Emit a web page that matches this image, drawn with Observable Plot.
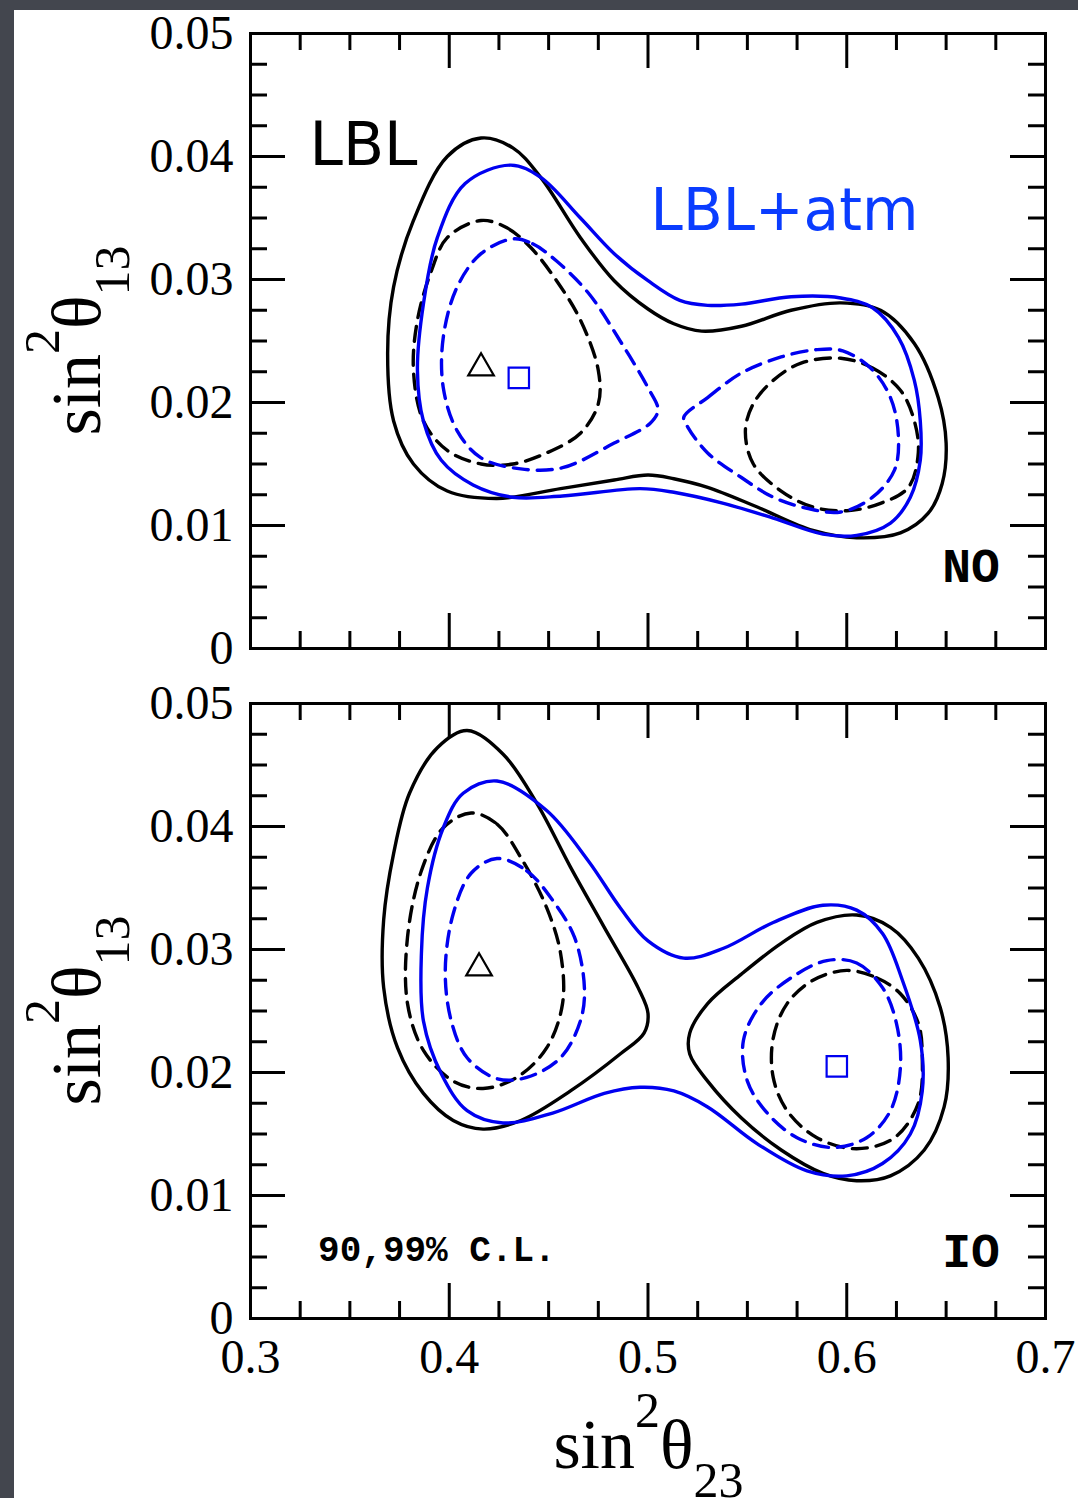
<!DOCTYPE html>
<html><head><meta charset="utf-8">
<script src="https://cdn.jsdelivr.net/npm/d3@7"></script>
<script src="https://cdn.jsdelivr.net/npm/@observablehq/plot@0.6"></script>
<style>
html,body{margin:0;padding:0;background:#43464e;}
#page{position:relative;width:1078px;height:1498px;background:#43464e;overflow:hidden;}
#sheet{position:absolute;left:14px;top:10px;right:0;bottom:0;background:#fff;}
#top,#bottom{position:absolute;left:0;}
#top{top:0;} #bottom{top:670px;}
</style></head><body>
<div id="page"><div id="sheet"></div><div id="top"></div><div id="bottom"></div></div>
<script>
// ---------- axis ticks ----------
const xMajor = [0.3, 0.4, 0.5, 0.6, 0.7];
const xMajorLabels = ["0.3", "0.4", "0.5", "0.6", "0.7"];
const xInnerMajor = [0.4, 0.5, 0.6];
const xMinor = [0.325, 0.35, 0.375, 0.425, 0.45, 0.475, 0.525, 0.55, 0.575, 0.625, 0.65, 0.675];
const yMajor = [0, 0.01, 0.02, 0.03, 0.04, 0.05];
const yMajorLabels = ["0", "0.01", "0.02", "0.03", "0.04", "0.05"];
const yInnerMajor = [0.01, 0.02, 0.03, 0.04];
const yMinor = [0.0025, 0.005, 0.0075, 0.0125, 0.015, 0.0175, 0.0225, 0.025, 0.0275,
                0.0325, 0.035, 0.0375, 0.0425, 0.045, 0.0475];

// ---------- NO panel contours (sin^2 th23, sin^2 th13) ----------
const noLbl99 = [[0.416,0.0415],[0.432,0.0407],[0.446,0.0383],[0.466,0.0334],[0.483,0.0299],[0.500,0.0276],[0.513,0.0264],[0.527,0.0258],[0.547,0.0262],[0.572,0.0275],[0.597,0.0281],[0.617,0.0275],[0.634,0.0248],[0.646,0.0204],[0.650,0.0167],[0.648,0.0134],[0.641,0.0110],[0.627,0.0094],[0.605,0.0090],[0.583,0.0096],[0.555,0.0115],[0.530,0.0131],[0.513,0.0138],[0.500,0.0141],[0.483,0.0137],[0.456,0.0130],[0.424,0.0122],[0.399,0.0128],[0.382,0.0150],[0.372,0.0185],[0.369,0.0240],[0.372,0.0294],[0.382,0.0348],[0.399,0.0400]];
const noAtm99 = [[0.431,0.0393],[0.446,0.0383],[0.466,0.0350],[0.483,0.0321],[0.500,0.0299],[0.516,0.0283],[0.530,0.0279],[0.547,0.0280],[0.572,0.0286],[0.597,0.0285],[0.613,0.0277],[0.626,0.0253],[0.634,0.0218],[0.637,0.0185],[0.637,0.0153],[0.632,0.0123],[0.622,0.0102],[0.605,0.0092],[0.588,0.0093],[0.563,0.0106],[0.538,0.0118],[0.513,0.0127],[0.496,0.0130],[0.457,0.0124],[0.432,0.0123],[0.412,0.0133],[0.396,0.0153],[0.387,0.0185],[0.384,0.0226],[0.387,0.0280],[0.394,0.0334],[0.408,0.0378]];
const noLbl90L = [[0.416,0.0348],[0.429,0.0342],[0.441,0.0326],[0.454,0.0299],[0.466,0.0267],[0.475,0.0226],[0.475,0.0199],[0.466,0.0175],[0.449,0.0159],[0.432,0.0150],[0.416,0.0150],[0.399,0.0161],[0.387,0.0185],[0.382,0.0226],[0.384,0.0267],[0.391,0.0307],[0.399,0.0334]];
const noLbl90R = [[0.597,0.0236],[0.613,0.0228],[0.627,0.0210],[0.634,0.0185],[0.636,0.0159],[0.631,0.0131],[0.617,0.0118],[0.600,0.0112],[0.583,0.0115],[0.567,0.0128],[0.553,0.0150],[0.549,0.0177],[0.553,0.0199],[0.563,0.0218],[0.577,0.0232]];
const noAtm90L = [[0.432,0.0333],[0.442,0.0329],[0.454,0.0315],[0.470,0.0289],[0.486,0.0250],[0.500,0.0212],[0.505,0.0194],[0.501,0.0183],[0.483,0.0167],[0.457,0.0147],[0.436,0.0146],[0.416,0.0155],[0.404,0.0177],[0.397,0.0212],[0.397,0.0253],[0.404,0.0294],[0.416,0.0321]];
const noAtm90R = [[0.518,0.0188],[0.530,0.0204],[0.547,0.0224],[0.567,0.0237],[0.585,0.0243],[0.598,0.0242],[0.612,0.0228],[0.622,0.0204],[0.626,0.0172],[0.624,0.0145],[0.613,0.0123],[0.597,0.0111],[0.580,0.0114],[0.563,0.0123],[0.547,0.0139],[0.530,0.0159],[0.520,0.0180]];
const noBestLbl = [0.416, 0.0228];
const noBestAtm = [0.435, 0.0220];

// ---------- IO panel contours ----------
const ioLbl99L = [[0.409,0.0478],[0.427,0.0459],[0.444,0.0419],[0.461,0.0367],[0.478,0.0318],[0.495,0.0269],[0.500,0.0248],[0.498,0.0232],[0.486,0.0215],[0.461,0.0185],[0.436,0.0161],[0.417,0.0154],[0.402,0.0161],[0.387,0.0183],[0.374,0.0220],[0.367,0.0269],[0.367,0.0324],[0.372,0.0378],[0.380,0.0427],[0.394,0.0464]];
const ioLbl99R = [[0.521,0.0232],[0.530,0.0256],[0.547,0.0280],[0.567,0.0305],[0.585,0.0322],[0.605,0.0328],[0.622,0.0318],[0.636,0.0293],[0.647,0.0253],[0.651,0.0212],[0.649,0.0172],[0.639,0.0137],[0.622,0.0116],[0.605,0.0112],[0.588,0.0118],[0.567,0.0137],[0.547,0.0163],[0.530,0.0193],[0.521,0.0215]];
const ioAtm99 = [[0.424,0.0437],[0.449,0.0413],[0.470,0.0372],[0.486,0.0334],[0.500,0.0307],[0.518,0.0293],[0.538,0.0301],[0.563,0.0322],[0.588,0.0336],[0.605,0.0332],[0.618,0.0313],[0.628,0.0275],[0.637,0.0226],[0.638,0.0185],[0.632,0.0150],[0.618,0.0126],[0.600,0.0116],[0.580,0.0120],[0.555,0.0142],[0.530,0.0172],[0.513,0.0185],[0.496,0.0188],[0.478,0.0183],[0.452,0.0167],[0.427,0.0159],[0.409,0.0169],[0.396,0.0199],[0.387,0.0242],[0.386,0.0297],[0.389,0.0350],[0.397,0.0399],[0.407,0.0427]];
const ioLbl90L = [[0.411,0.0411],[0.424,0.0402],[0.437,0.0372],[0.449,0.0334],[0.456,0.0297],[0.457,0.0256],[0.449,0.0220],[0.434,0.0196],[0.417,0.0187],[0.402,0.0193],[0.387,0.0218],[0.379,0.0256],[0.379,0.0310],[0.386,0.0364],[0.397,0.0399]];
const ioLbl90R = [[0.600,0.0283],[0.615,0.0277],[0.627,0.0264],[0.636,0.0240],[0.638,0.0212],[0.636,0.0175],[0.624,0.0147],[0.605,0.0138],[0.585,0.0147],[0.570,0.0169],[0.563,0.0196],[0.563,0.0228],[0.570,0.0256],[0.583,0.0275]];
const ioAtm90L = [[0.424,0.0374],[0.439,0.0364],[0.452,0.0340],[0.463,0.0310],[0.468,0.0269],[0.466,0.0242],[0.456,0.0212],[0.439,0.0196],[0.424,0.0195],[0.409,0.0212],[0.401,0.0242],[0.398,0.0283],[0.402,0.0329],[0.411,0.0362]];
const ioAtm90R = [[0.590,0.0291],[0.605,0.0289],[0.618,0.0269],[0.625,0.0240],[0.627,0.0204],[0.622,0.0169],[0.610,0.0147],[0.593,0.0139],[0.575,0.0147],[0.560,0.0167],[0.550,0.0193],[0.548,0.0226],[0.557,0.0256],[0.572,0.0277]];
const ioBestLbl = [0.415, 0.0285];
const ioBestAtm = [0.595, 0.0205];

// ---------- styles ----------
const BLACK = "#000000";
const BLUE = "#0000f0";
const TEXTBLUE = "#0a3cff";
const W = 1078, ML = 250, MR = 33, MT = 33, PH = 615;
const LW = 3, CW = 3.4;
const DASH = "15,9";
const serif = "'Liberation Serif', 'Times New Roman', serif";
const mono = "'Liberation Mono', 'Courier New', monospace";
const sans = "'Comic Sans MS', 'DejaVu Sans', sans-serif";

const rows = (pts, id) => pts.map(([x, y]) => ({x, y, id}));
const xLab = new Map(xMajor.map((d, i) => [d, xMajorLabels[i]]));
const yLab = new Map(yMajor.map((d, i) => [d, yMajorLabels[i]]));

function frameMarks() {
  const innerH = PH - 35, innerHm = PH - 17;
  const innerW = (W - ML - MR) - 35, innerWm = (W - ML - MR) - 17;
  const t = {stroke: BLACK, strokeWidth: LW};
  return [
    Plot.tickX(xInnerMajor, {x: d => d, insetTop: innerH, ...t}),
    Plot.tickX(xInnerMajor, {x: d => d, insetBottom: innerH, ...t}),
    Plot.tickX(xMinor, {x: d => d, insetTop: innerHm, ...t}),
    Plot.tickX(xMinor, {x: d => d, insetBottom: innerHm, ...t}),
    Plot.tickY(yInnerMajor, {y: d => d, insetRight: innerW, ...t}),
    Plot.tickY(yInnerMajor, {y: d => d, insetLeft: innerW, ...t}),
    Plot.tickY(yMinor, {y: d => d, insetRight: innerWm, ...t}),
    Plot.tickY(yMinor, {y: d => d, insetLeft: innerWm, ...t}),
    Plot.axisY(yMajor, {tickSize: 0, tickPadding: 17, tickFormat: d => yLab.get(d),
      fontSize: 48, fontFamily: serif, label: null}),
    Plot.frame({stroke: BLACK, strokeWidth: LW})
  ];
}

function contourMarks(solidBlack, solidBlue, dashBlack, dashBlue) {
  const c = "catmull-rom-closed";
  return [
    Plot.line(dashBlack, {x: "x", y: "y", z: "id", stroke: BLACK, strokeWidth: CW, strokeDasharray: DASH, curve: c}),
    Plot.line(dashBlue, {x: "x", y: "y", z: "id", stroke: BLUE, strokeWidth: CW, strokeDasharray: DASH, curve: c}),
    Plot.line(solidBlack, {x: "x", y: "y", z: "id", stroke: BLACK, strokeWidth: CW, curve: c}),
    Plot.line(solidBlue, {x: "x", y: "y", z: "id", stroke: BLUE, strokeWidth: CW, curve: c})
  ];
}

function bestMarks(lbl, atm) {
  return [
    Plot.dot([lbl], {x: d => d[0], y: d => d[1], symbol: "triangle", r: 9.5, stroke: BLACK, strokeWidth: 2.2, fill: "none"}),
    Plot.dot([atm], {x: d => d[0], y: d => d[1], symbol: "square", r: 11.5, stroke: BLUE, strokeWidth: 2.2, fill: "none"})
  ];
}

function addYTitle(svg, plot) {
  const cy = plot.scale("y").apply(0.025);
  const t = d3.select(svg).append("text")
    .attr("transform", `translate(100,${cy}) rotate(-90)`)
    .attr("text-anchor", "middle").attr("font-family", serif)
    .attr("font-size", 70).attr("fill", BLACK);
  t.append("tspan").text("sin");
  t.append("tspan").attr("font-size", 50).attr("dy", -41).text("2");
  t.append("tspan").attr("dy", 41).text("θ");
  t.append("tspan").attr("font-size", 50).attr("dy", 29).text("13");
}

const common = {
  width: W, marginLeft: ML, marginRight: MR, marginTop: MT,
  x: {domain: [0.3, 0.7]},
  y: {domain: [0, 0.05]},
  style: {background: "transparent", color: BLACK, overflow: "visible", fontFamily: serif}
};

// ---------- top (NO) ----------
const topPlot = Plot.plot({
  ...common, height: 680, marginBottom: 680 - MT - PH,
  x: {domain: [0.3, 0.7], axis: null},
  marks: [
    ...frameMarks(),
    ...contourMarks(rows(noLbl99, "a"), rows(noAtm99, "b"),
      [...rows(noLbl90L, "c"), ...rows(noLbl90R, "d")],
      [...rows(noAtm90L, "e"), ...rows(noAtm90R, "f")]),
    ...bestMarks(noBestLbl, noBestAtm),
    Plot.text(["LBL"], {x: 0.3297, y: 0.0393, text: d => d, textAnchor: "start", lineAnchor: "bottom",
      fontSize: 60, fontFamily: sans, fill: BLACK}),
    Plot.text(["LBL+atm"], {x: 0.5013, y: 0.0340, text: d => d, textAnchor: "start", lineAnchor: "bottom",
      fontSize: 58, fontFamily: sans, fill: TEXTBLUE}),
    Plot.text(["NO"], {x: 0.6770, y: 0.0054, text: d => d, textAnchor: "end", lineAnchor: "bottom",
      fontSize: 48, fontFamily: mono, fontWeight: "bold", fill: BLACK})
  ]
});
addYTitle(topPlot, topPlot);
document.getElementById("top").appendChild(topPlot);

// ---------- bottom (IO) ----------
const botPlot = Plot.plot({
  ...common, height: 828, marginBottom: 828 - MT - PH,
  marks: [
    ...frameMarks(),
    Plot.axisX(xMajor, {anchor: "bottom", tickSize: 0, tickPadding: 20, tickFormat: d => xLab.get(d),
      fontSize: 48, fontFamily: serif, label: null}),
    ...contourMarks([...rows(ioLbl99L, "a"), ...rows(ioLbl99R, "b")], rows(ioAtm99, "c"),
      [...rows(ioLbl90L, "d"), ...rows(ioLbl90R, "e")],
      [...rows(ioAtm90L, "f"), ...rows(ioAtm90R, "g")]),
    ...bestMarks(ioBestLbl, ioBestAtm),
    Plot.text(["IO"], {x: 0.6770, y: 0.0042, text: d => d, textAnchor: "end", lineAnchor: "bottom",
      fontSize: 48, fontFamily: mono, fontWeight: "bold", fill: BLACK}),
    Plot.text(["90,99% C.L."], {x: 0.334, y: 0.0047, text: d => d, textAnchor: "start", lineAnchor: "bottom",
      fontSize: 36, fontFamily: mono, fontWeight: "bold", fill: BLACK})
  ]
});
addYTitle(botPlot, botPlot);
{
  const cx = botPlot.scale("x").apply(0.5) + 1;
  const by = botPlot.scale("y").apply(0) + 150;
  const t = d3.select(botPlot).append("text")
    .attr("x", cx).attr("y", by)
    .attr("text-anchor", "middle").attr("font-family", serif)
    .attr("font-size", 70).attr("fill", BLACK);
  t.append("tspan").text("sin");
  t.append("tspan").attr("font-size", 50).attr("dy", -41).text("2");
  t.append("tspan").attr("dy", 41).text("θ");
  t.append("tspan").attr("font-size", 50).attr("dy", 29).text("23");
}
document.getElementById("bottom").appendChild(botPlot);
</script>
</body></html>
